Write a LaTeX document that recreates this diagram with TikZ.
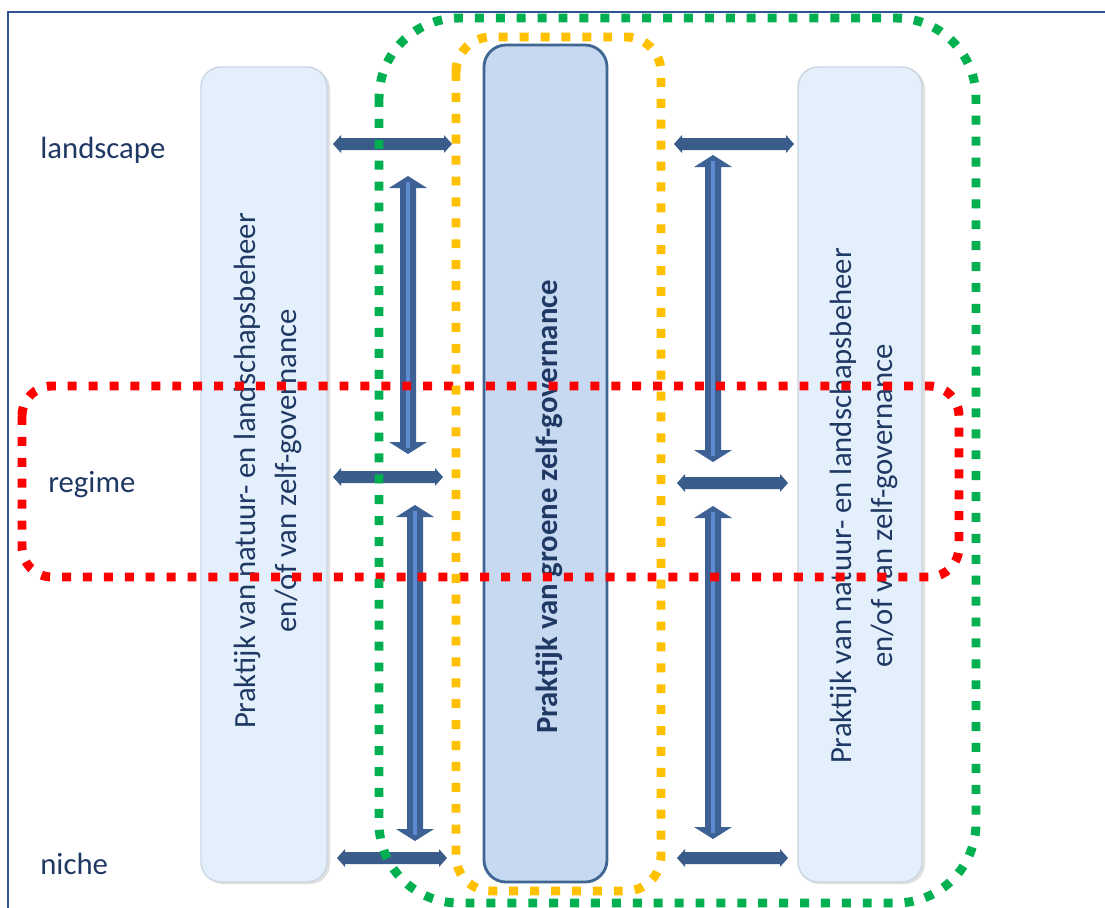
\documentclass[tikz,border=0pt]{standalone}
\usepackage{fontspec}
\setmainfont{Carlito}
\definecolor{framecol}{HTML}{2F5496}
\definecolor{txtcol}{HTML}{1F3864}
\definecolor{sidefill}{HTML}{E3F0FC}
\definecolor{sidedraw}{HTML}{C9D5E2}
\definecolor{midfill}{HTML}{C6D9F0}
\definecolor{middraw}{HTML}{3F6592}
\definecolor{arrcol}{HTML}{3A5C8A}
\definecolor{varrcol}{HTML}{3D6195}
\definecolor{varrlight}{HTML}{5C8CCF}
\definecolor{dotgreen}{HTML}{00B050}
\definecolor{dotorange}{HTML}{FFC000}
\definecolor{dotred}{HTML}{FF0000}
\newcommand{\harrowshape}[3]{%
  \fill[arrcol] (#1,#3) -- (#1+8,#3-9) -- (#1+8,#3-6) -- (#2-8,#3-6) -- (#2-8,#3-9) -- (#2,#3)
    -- (#2-8,#3+9) -- (#2-8,#3+6) -- (#1+8,#3+6) -- (#1+8,#3+9) -- cycle;}
\newcommand{\varrowshape}[3]{%
  \fill[varrcol] (#1,#2) -- (#1+19,#2+12) -- (#1+8,#2+12) -- (#1+8,#3-12) -- (#1+19,#3-12) -- (#1,#3)
    -- (#1-19,#3-12) -- (#1-8,#3-12) -- (#1-8,#2+12) -- (#1-19,#2+12) -- cycle;
  \draw[varrlight,line width=1.8pt] (#1,#2+6) -- (#1,#3-6);}
\tikzset{
  sidebox/.style={draw=sidedraw,fill=sidefill,line width=0.8pt,rounded corners=0.4cm},
  midbox/.style={draw=middraw,fill=midfill,line width=1.6pt,rounded corners=0.44cm},
  dotline/.style={line width=5.1pt,dash pattern=on 5.1pt off 6.8pt,rounded corners=#1},
  lbl/.style={text=txtcol,font=\fontsize{17.5}{21}\selectfont,anchor=west,inner sep=0pt},
  boxtxt/.style={text=txtcol,font=\fontsize{17.5}{23.8}\selectfont,rotate=90,align=center,inner sep=0pt}
}
\begin{document}
\begin{tikzpicture}[x=0.02cm,y=-0.02cm]
\useasboundingbox (0,0) rectangle (1105,907);
\fill[white] (0,0) rectangle (1105,907);
% frame
\draw[framecol,line width=1.1pt] (8,910) -- (8,12) -- (1110,12);
% side boxes
\fill[black!12,rounded corners=0.4cm] (203,69) rectangle (330,884);
\fill[black!12,rounded corners=0.4cm] (800,69) rectangle (925,884);
\draw[sidebox] (201,67) rectangle (327,882);
\draw[sidebox] (798,67) rectangle (922,882);
\node[boxtxt] (lefttxt) at (268,471) {Praktijk van natuur- en landschapsbeheer\\en/of van zelf-governance};
\node[boxtxt] (righttxt) at (864,506) {Praktijk van natuur- en landschapsbeheer\\en/of van zelf-governance};
% middle box
\draw[midbox] (484,45) rectangle (607,882);
\node[boxtxt,font=\fontsize{17.5}{23.8}\selectfont\bfseries] (midtxt) at (549,507) {Praktijk van groene zelf-governance};
% labels
\node[lbl] (landscape) at (40,150) {landscape};
\node[lbl] (regime) at (48,485) {regime};
\node[lbl] (niche) at (40,864) {niche};
% horizontal arrows
\harrowshape{333}{452}{144}
\harrowshape{333}{443}{477}
\harrowshape{337}{447}{858}
\harrowshape{674}{794}{144}
\harrowshape{677}{788}{483}
\harrowshape{677}{788}{858}
% vertical arrows
\varrowshape{408}{176}{454}
\varrowshape{415}{505}{841}
\varrowshape{713}{155}{462}
\varrowshape{713}{506}{839}
% dotted outlines
\draw[dotline=0.6cm,dotred] (22,386) rectangle (959,577);
\draw[dotline=1.6cm,dotgreen] (379,18) rectangle (976,903);
\draw[dotline=0.7cm,dotorange] (456,37) rectangle (661,891);
\end{tikzpicture}
\end{document}
